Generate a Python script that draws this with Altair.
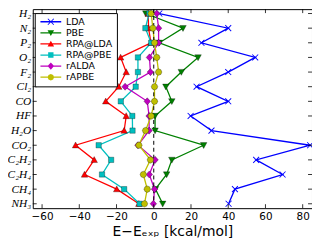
import altair as alt
import pandas as pd

molecules = ["H₂", "N₂", "P₂", "O₂", "F₂", "Cl₂", "CO", "HF", "H₂O", "CO₂",
             "C₂H₂", "C₂H₄", "CH₄", "NH₃"]
methods = ["LDA", "PBE", "RPA@LDA", "RPA@PBE", "rALDA", "rAPBE"]

lda = [3.0, 40.0, 25.6, 54.5, 40.0, 23.0, 40.0, 19.8, 31.0, 84.0, 55.0, 69.2, 43.6, 40.2]
pbe = [-4.3, 15.7, 3.0, 23.8, 14.8, 6.5, 9.7, 0.7, 0.7, 26.8, 9.7, 6.9, 0.9, 4.8]
rpa_lda = [-3.0, -2.8, -1.5, -17.8, -14.8, -18.8, -25.8, -14.8, -15.9, -42.0, -32.0, -37.2, -19.9, -8.0]
rpa_pbe = [-2.5, -4.5, -1.4, -8.5, -8.5, -9.7, -17.7, -11.5, -11.4, -29.6, -22.9, -27.8, -15.9, -7.6]
ralda = [1.6, 2.6, 2.6, -2.3, -1.8, -15.4, -3.5, -2.5, -2.5, -8.5, 0.7, -2.4, 0.4, -0.2]
rapbe = [-1.4, -0.5, 0.4, 1.6, 2.6, 0.4, 0.4, -1.4, -4.4, -8.0, -1.8, -5.6, -3.5, -5.0]

x_ticks = [-60, -40, -20, 0, 20, 40, 60, 80]
y_ticks = list(range(len(molecules)))

colors = ["#0000ff", "#008000", "#ff0000", "#00bfbf", "#bf00bf", "#bfbf00"]

x_mark = ("M-0.894,-1.106L1.106,0.894L0.894,1.106L-1.106,-0.894Z"
          "M-1.106,0.894L0.894,-1.106L1.106,-0.894L-0.894,1.106Z")
tri_down = "M-1.1,-0.9L1.1,-0.9L0,1.1Z"
tri_up = "M1.1,0.9L-1.1,0.9L0,-1.1Z"
square = "M-0.9,-0.9L0.9,-0.9L0.9,0.9L-0.9,0.9Z"
diamond = "M0,-1.2L1.1,0L0,1.2L-1.1,0Z"
circle = ("M0,-1.1L0.78,-0.78L1.1,0L0.78,0.78L0,1.1L-0.78,0.78L-1.1,0L-0.78,-0.78Z")
markers = [x_mark, tri_down, tri_up, square, diamond, circle]
seg = "M-3.5,-0.22L3.5,-0.22L3.5,0.22L-3.5,0.22Z"
legend_shapes = [seg + m for m in markers]

rows = []
for m, vals in zip(methods, [lda, pbe, rpa_lda, rpa_pbe, ralda, rapbe]):
    for i, v in enumerate(vals):
        rows.append({"method": m, "idx": i, "val": v})
df = pd.DataFrame(rows)

W, H = 282, 201

xscale = alt.Scale(domain=[-65, 85], nice=False, zero=False)
yscale = alt.Scale(domain=[-0.3, 13.3], nice=False, zero=False, reverse=True)
cscale = alt.Scale(domain=methods, range=colors)

label_arr = "[" + ",".join("'" + s + "'" for s in molecules) + "]"

xaxis = alt.Axis(values=x_ticks, title="E−Eₑₓₚ [kcal/mol]", titleFont="DejaVu Sans",
                 titleFontSize=14, titleFontWeight="normal", titleColor="black",
                 labelFont="DejaVu Sans", labelFontSize=10.5, labelColor="black",
                 labelExpr="replace(datum.label, '-', '−')",
                 ticks=False, domain=False, grid=False, labelPadding=3, titlePadding=3)
yaxis = alt.Axis(values=y_ticks, labelExpr=label_arr + "[datum.value]", title=None,
                 labelFont="Liberation Serif", labelFontStyle="italic", labelFontSize=11.5,
                 labelColor="black", ticks=False, domain=False, grid=False,
                 labelPadding=2, labelOverlap=False, labelBound=False, labelFlush=False)

leg = dict(title=None, orient="none", legendX=2, legendY=4, fillColor="white",
           strokeColor="black", padding=4, labelFont="DejaVu Sans", labelFontSize=9.5,
           labelColor="black", symbolSize=36, symbolOpacity=1, symbolStrokeWidth=0,
           symbolOffset=7.5, labelOffset=10.5, rowPadding=0.2, cornerRadius=0)

base = alt.Chart(df)

X = lambda f: alt.X(f, scale=xscale, axis=xaxis)
Y = lambda f: alt.Y(f, scale=yscale, axis=yaxis)

lines = base.mark_line(strokeWidth=1.3).encode(
    x=X("val:Q"), y=Y("idx:Q"),
    color=alt.Color("method:N", scale=cscale, legend=alt.Legend(**leg)),
    order=alt.Order("idx:Q"),
)

zero = alt.Chart(pd.DataFrame({"z": [0]})).mark_rule(
    color="black", strokeDash=[4, 3], strokeWidth=1
).encode(x=X("z:Q"))

shape_expr = "{" + ",".join("'" + m + "':'" + p + "'" for m, p in zip(methods, markers)) + "}[datum.method]"

points = base.transform_calculate(shp=shape_expr).mark_point(
    filled=True, size=36, opacity=1, stroke="black", strokeOpacity=0.6
).encode(
    x=X("val:Q"), y=Y("idx:Q"),
    color=alt.Color("method:N", scale=cscale, legend=alt.Legend(**leg)),
    shape=alt.Shape("shp:N", scale=None),
    strokeWidth=alt.condition("datum.method == 'LDA'", alt.value(0), alt.value(0.5)),
)

legend_layer = base.transform_filter("false").mark_point(filled=True, size=36).encode(
    x=X("val:Q"), y=Y("idx:Q"),
    color=alt.Color("method:N", scale=cscale, legend=alt.Legend(**leg)),
    shape=alt.Shape("method:N", scale=alt.Scale(domain=methods, range=legend_shapes),
                    legend=alt.Legend(**leg)),
)

xt = pd.DataFrame({"t": x_ticks})
yt = pd.DataFrame({"t": y_ticks})
top_ticks = alt.Chart(xt).mark_rule(color="black", strokeWidth=0.8).encode(
    x=X("t:Q"), y=alt.value(0), y2=alt.value(4))
bot_ticks = alt.Chart(xt).mark_rule(color="black", strokeWidth=0.8).encode(
    x=X("t:Q"), y=alt.value(H), y2=alt.value(H - 4))
left_ticks = alt.Chart(yt).mark_rule(color="black", strokeWidth=0.8).encode(
    y=Y("t:Q"), x=alt.value(0), x2=alt.value(4))
right_ticks = alt.Chart(yt).mark_rule(color="black", strokeWidth=0.8).encode(
    y=Y("t:Q"), x=alt.value(W), x2=alt.value(W - 4))

chart = alt.layer(
    lines, zero, points, legend_layer, top_ticks, bot_ticks, left_ticks, right_ticks
).properties(
    width=W, height=H,
    autosize=alt.AutoSizeParams(type="none"),
    padding={"left": 25, "top": 0, "right": 0, "bottom": 31},
).configure_view(stroke="black", strokeWidth=1)

chart.save("out.html", embed_options={"renderer": "svg", "actions": False})
